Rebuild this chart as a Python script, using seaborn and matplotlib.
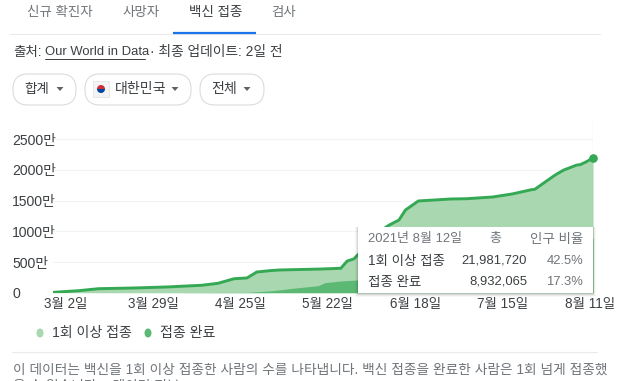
import matplotlib

matplotlib.use("Agg")

import matplotlib.pyplot as plt
import matplotlib.dates as mdates
import matplotlib.patches as mpatches
import pandas as pd
import seaborn as sns

# values in units of 10,000 people (만)
first_dates = ["2021-02-26", "2021-03-01", "2021-03-06", "2021-03-12", "2021-03-23", "2021-04-02",
               "2021-04-13", "2021-04-18", "2021-04-23", "2021-04-27", "2021-04-30", "2021-05-04",
               "2021-05-07", "2021-05-20", "2021-05-26", "2021-05-28", "2021-05-30", "2021-05-31",
               "2021-06-04", "2021-06-07", "2021-06-10", "2021-06-13", "2021-06-15", "2021-06-19",
               "2021-06-29", "2021-07-04", "2021-07-12", "2021-07-18", "2021-07-24", "2021-07-25",
               "2021-07-31", "2021-08-01", "2021-08-03", "2021-08-07", "2021-08-08", "2021-08-10",
               "2021-08-12"]
first_dose = [5, 16, 33, 65, 77, 93, 121, 153, 228, 240, 337, 359, 370, 386, 398, 517, 549, 603,
              800, 1000, 1103, 1185, 1348, 1495, 1527, 1532, 1560, 1609, 1679, 1685, 1907, 1940,
              2000, 2081, 2086, 2135, 2198]

full_dates = ["2021-02-26", "2021-04-05", "2021-04-27", "2021-05-05", "2021-05-12", "2021-05-19",
              "2021-05-21", "2021-05-26", "2021-05-31", "2021-06-15", "2021-07-01", "2021-07-25",
              "2021-08-12"]
full_dose = [0, 1, 5, 33, 77, 114, 163, 191, 207, 300, 500, 650, 893]

y_ticks = [0, 500, 1000, 1500, 2000, 2500]
y_labels = ["0", "500만", "1000만", "1500만", "2000만", "2500만"]
x_tick_dates = ["2021-03-02", "2021-03-29", "2021-04-25", "2021-05-22", "2021-06-18", "2021-07-15", "2021-08-11"]
x_labels = ["3월 2일", "3월 29일", "4월 25일", "5월 22일", "6월 18일", "7월 15일", "8월 11일"]
tabs = ["신규 확진자", "사망자", "백신 접종", "검사"]

first = pd.DataFrame({"date": pd.to_datetime(first_dates), "value": first_dose})
full = pd.DataFrame({"date": pd.to_datetime(full_dates), "value": full_dose})

sns.set_theme(style="white")
plt.rcParams["font.family"] = ["Liberation Sans", "Noto Sans CJK KR"]

W, H = 643, 381
GREEN = "#34a853"
LIGHT = "#a8d7b0"
MID = "#5bb974"
TEXT = "#3c4043"
GREY = "#70757a"
RULE = "#e8eaed"


def px(size):
    return size * 0.72


fig = plt.figure(figsize=(W / 100, H / 100), dpi=100)
ax = fig.add_axes([53 / W, 1 - 292.7 / H, 540 / W, 174.7 / H])

ax.fill_between(first["date"], first["value"], color=LIGHT, lw=0)
ax.fill_between(full["date"], full["value"], color=MID, lw=0)
sns.lineplot(data=first, x="date", y="value", ax=ax, color=GREEN, linewidth=2.1, legend=False, zorder=4)
ax.plot(first["date"].iloc[-1], first["value"].iloc[-1], "o", color=GREEN, ms=5.2, clip_on=False, zorder=5)
ax.axvline(first["date"].iloc[-1], color="#80868b", lw=0.8, ls=(0, (1, 1.5)), zorder=3)

ax.set_xlim(first["date"].iloc[0], first["date"].iloc[-1])
ax.set_ylim(0, 2847)
ax.set_yticks(y_ticks)
ax.set_yticklabels(y_labels, ha="left", fontsize=px(14), color=TEXT)
ax.set_xticks(mdates.date2num(pd.to_datetime(x_tick_dates)))
ax.set_xticklabels(x_labels, fontsize=px(13.5), color=TEXT)
ax.tick_params(axis="y", length=0, pad=29.5)
ax.tick_params(axis="x", length=0, pad=3)
ax.grid(axis="y", color="#f1f3f4", lw=0.8)
ax.set_axisbelow(True)
ax.set_xlabel("")
ax.set_ylabel("")
sns.despine(ax=ax, left=True, bottom=True, top=True, right=True)

# page chrome, in reference pixels
ui = fig.add_axes([0, 0, 1, 1], zorder=10)
ui.set_xlim(0, W)
ui.set_ylim(H, 0)
ui.axis("off")
ui.patch.set_alpha(0)


def label(x, y, s, size=13.5, color=TEXT, ha="left", **kw):
    ui.text(x, y, s, fontsize=px(size), color=color, ha=ha, va="center", **kw)


def pill(x0, x1):
    ui.add_patch(mpatches.FancyBboxPatch((x0, 74), x1 - x0, 31, boxstyle="round,pad=0,rounding_size=15",
                                         fc="white", ec="#dadce0", lw=0.8))


def caret(x):
    ui.add_patch(mpatches.Polygon([(x - 3.5, 87), (x + 3.5, 87), (x, 91)], fc="#5f6368", lw=0))


for name, x, c in zip(tabs, [60, 141, 215.5, 284], [GREY, GREY, TEXT, GREY]):
    label(x, 12, name, ha="center", color=c)
ui.plot([10, 600], [34, 34], color=RULE, lw=0.8)
ui.plot([173, 256], [33, 33], color="#1a73e8", lw=1.6, solid_capstyle="butt")

label(13, 52, "출처:")
label(45, 52, "Our World in Data", size=13)
ui.plot([45, 145], [58.5, 58.5], color=TEXT, lw=0.7)
label(150, 52, "· 최종 업데이트: 2일 전", size=13.8)

pill(13, 76)
pill(85, 191)
pill(200, 264)
label(37, 89, "합계", ha="center")
caret(60)
ui.add_patch(mpatches.Rectangle((93, 81), 16, 16, fc="#f4f4f4", ec="#e0e0e0", lw=0.5))
ui.add_patch(mpatches.Wedge((101, 89), 4, 180, 360, fc="#cd2e3a", lw=0))
ui.add_patch(mpatches.Wedge((101, 89), 4, 0, 180, fc="#0047a0", lw=0))
label(115, 89, "대한민국", size=14)
caret(175)
label(224, 89, "전체", ha="center", size=14)
caret(247)

# tooltip
for grow, a in [(3, 0.03), (2, 0.05), (1, 0.08)]:
    ui.add_patch(mpatches.Rectangle((358 - grow, 227), 235 + 2 * grow, 67 + grow, fc="black", alpha=a, lw=0))
ui.add_patch(mpatches.Rectangle((358, 227), 235, 66, fc="white", lw=0))
label(368, 239, "2021년 8월 12일", color=GREY, size=13)
label(495, 239, "총", color=GREY, ha="center", size=13)
label(583, 239, "인구 비율", color=GREY, ha="right", size=13.5)
label(368, 260.5, "1회 이상 접종", size=13.5)
label(527, 260.5, "21,981,720", ha="right", size=13)
label(583, 260.5, "42.5%", color=GREY, ha="right", size=13)
label(368, 282, "접종 완료", size=13.5)
label(527, 282, "8,932,065", ha="right", size=13)
label(583, 282, "17.3%", color=GREY, ha="right", size=13)

# legend
ui.add_patch(mpatches.Ellipse((40, 333), 7, 9, fc=LIGHT, lw=0))
label(52, 333, "1회 이상 접종", size=14)
ui.add_patch(mpatches.Ellipse((148, 333), 7, 9, fc=MID, lw=0))
label(160, 333, "접종 완료", size=14)

ui.plot([12, 597], [352, 352], color=RULE, lw=0.8)
label(13, 370, "이 데이터는 백신을 1회 이상 접종한 사람의 수를 나타냅니다. 백신 접종을 완료한 사람은 1회 넘게 접종했", color=GREY, size=13.7)
label(13, 385.5, "을 수 있습니다. · 데이터 정보", color=GREY, size=13.7, clip_on=False)

fig.savefig("out.png", dpi=100)
